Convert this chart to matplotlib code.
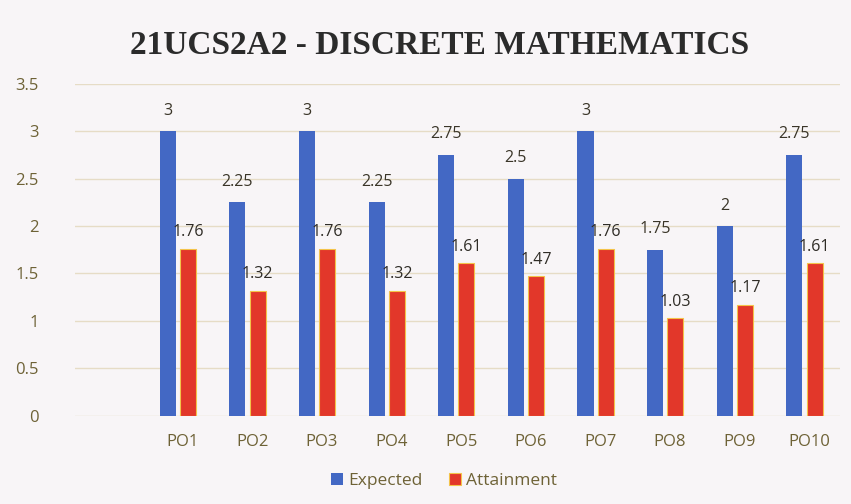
import matplotlib.pyplot as plt
import numpy as np

# course outcome attainment
categories = ['PO1', 'PO2', 'PO3', 'PO4', 'PO5', 'PO6', 'PO7', 'PO8', 'PO9', 'PO10']
expected = [3, 2.25, 3, 2.25, 2.75, 2.5, 3, 1.75, 2, 2.75]
attainment = [1.76, 1.32, 1.76, 1.32, 1.61, 1.47, 1.76, 1.03, 1.17, 1.61]
y_ticks = [0, 0.5, 1, 1.5, 2, 2.5, 3, 3.5]

bg = '#f8f5f7'
blue = '#4368c4'
red = '#e2372a'
text_col = '#6e6236'

fig = plt.figure(figsize=(8.51, 5.04), dpi=100, facecolor=bg)
ax = fig.add_axes([0.088, 0.175, 0.899, 0.659], facecolor=bg)

x = np.arange(len(categories))
w = 0.23
ax.bar(x - 0.145, expected, w, color=blue, label='Expected', zorder=3)
ax.bar(x + 0.145, attainment, w, color=red, edgecolor='#f4c34a', linewidth=0.8,
       label='Attainment', zorder=3)

for xi, v in zip(x, expected):
    ax.annotate(f'{v:g}', (xi - 0.145, v), xytext=(0, 9), textcoords='offset points',
                ha='center', va='bottom', fontsize=11.5, color='#3a3528', family='Open Sans')
for xi, v in zip(x, attainment):
    ax.annotate(f'{v:g}', (xi + 0.145, v), xytext=(0, 6), textcoords='offset points',
                ha='center', va='bottom', fontsize=11.5, color='#2f2c26', family='Open Sans')

ax.set_ylim(0, 3.5)
ax.set_xlim(-1.48, 9.51)
ax.set_yticks(y_ticks)
ax.set_yticklabels([f'{t:g}' for t in y_ticks])
ax.set_xticks(x + 0.07)
ax.set_xticklabels(categories)
ax.tick_params(length=0, labelsize=12, colors=text_col, pad=13)
ax.tick_params(axis='y', pad=26)
for lab in ax.get_xticklabels() + ax.get_yticklabels():
    lab.set_family('Open Sans')

ax.grid(axis='y', color='#e6dcc6', linewidth=1, zorder=0)
for s in ax.spines.values():
    s.set_visible(False)

fig.text(0.516, 0.91, '21UCS2A2 - DISCRETE MATHEMATICS', ha='center', va='center',
         fontsize=24, fontweight='bold', family='Liberation Serif', color='#2b2b2b')

leg = fig.legend(loc='center', bbox_to_anchor=(0.522, 0.045), ncol=2, frameon=False,
                 handlelength=0.7, handleheight=0.7, handletextpad=0.3, columnspacing=1.5,
                 prop={'family': 'Open Sans', 'size': 12.5})
for t in leg.get_texts():
    t.set_color(text_col)

fig.savefig('out.png', dpi=100, facecolor=bg)
